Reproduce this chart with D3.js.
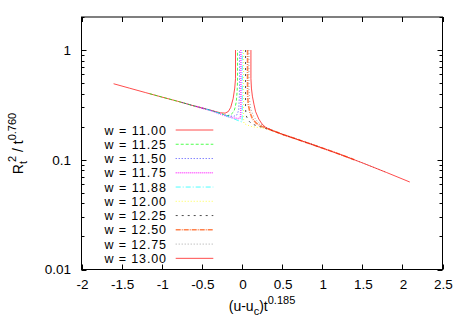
<!DOCTYPE html>
<html><head><meta charset="utf-8">
<script src="https://cdn.jsdelivr.net/npm/d3@7"></script>
<style>body{margin:0;background:#fff}text{font-family:"Liberation Sans",Arial,sans-serif}</style>
</head><body><svg id="c" width="467" height="327"></svg>
<script>
// ---- data ----
const legendLabels = ["w = 11.00","w = 11.25","w = 11.50","w = 11.75","w = 11.88","w = 12.00","w = 12.25","w = 12.50","w = 12.75","w = 13.00"];
const xTicks = [-2,-1.5,-1,-0.5,0,0.5,1,1.5,2,2.5];
const xTickLabels = ["-2","-1.5","-1","-0.5","0","0.5","1","1.5","2","2.5"];
const yTicks = [0.01,0.1,1];
const yTickLabels = ["0.01","0.1","1"];

const w1100 = [[-1.6,0.493],[-1.4,0.449],[-1.2,0.409],[-1.0,0.373],[-0.8,0.341],[-0.6,0.310],[-0.4,0.284],[-0.27,0.268],[-0.21,0.266],[-0.17,0.275],[-0.14,0.30],[-0.11,0.36],[-0.09,0.45],[-0.08,0.55],[-0.08,1]];
const w1125 = [[-1.15,0.40],[-1.0,0.373],[-0.8,0.341],[-0.6,0.310],[-0.4,0.284],[-0.25,0.262],[-0.19,0.252],[-0.143,0.256],[-0.10,0.275],[-0.085,0.30],[-0.07,0.34],[-0.06,0.42],[-0.055,0.52],[-0.055,1]];
const w1150 = [[-0.75,0.333],[-0.6,0.310],[-0.4,0.284],[-0.25,0.260],[-0.15,0.250],[-0.10,0.249],[-0.06,0.258],[-0.04,0.285],[-0.032,0.38],[-0.030,0.50],[-0.030,1]];
const w1175 = [[-0.58,0.307],[-0.4,0.283],[-0.25,0.258],[-0.15,0.245],[-0.10,0.240],[-0.04,0.237],[-0.018,0.240],[-0.013,0.30],[-0.013,1]];
const w1188 = [[-0.45,0.290],[-0.3,0.268],[-0.15,0.244],[-0.05,0.228],[0.0,0.221],[0.004,0.25],[0.004,1]];
const w1200 = [[0.020,1],[0.020,0.24],[0.025,0.214],[0.06,0.208],[0.128,0.200],[0.2,0.197],[0.3,0.192],[0.5,0.171],[0.7,0.152]];
const w1225 = [[0.045,1],[0.045,0.30],[0.05,0.255],[0.08,0.228],[0.12,0.213],[0.17,0.206],[0.25,0.198],[0.5,0.171],[0.8,0.144],[1.0,0.128]];
const w1250 = [[0.070,1],[0.070,0.40],[0.078,0.32],[0.10,0.27],[0.13,0.237],[0.18,0.215],[0.25,0.201],[0.5,0.171],[0.8,0.144],[1.0,0.128],[1.227,0.1117],[1.4,0.100]];
const w1275 = [[0.087,1],[0.087,0.45],[0.095,0.35],[0.11,0.29],[0.15,0.245],[0.2,0.220],[0.27,0.202],[0.5,0.171],[0.8,0.144],[1.0,0.128],[1.227,0.1117],[1.5,0.0938],[1.8,0.0767]];
const w1300 = [[0.112,1],[0.112,0.55],[0.118,0.45],[0.13,0.38],[0.15,0.32],[0.17,0.275],[0.21,0.235],[0.25,0.212],[0.3,0.196],[0.4,0.182],[0.5,0.171],[0.8,0.144],[1.0,0.128],[1.227,0.1117],[1.5,0.0938],[1.8,0.0767],[2.092,0.0627]];

const seriesData = [w1100,w1125,w1150,w1175,w1188,w1200,w1225,w1250,w1275,w1300];
const colors = ["#ff0000","#00ff00","#0000ff","#ff00ff","#00ffff","#ffff00","#000000","#ff4d00","#808080","#ff0000"];
const dashes = [null,"3,2","1,2","1,1","5,2,1,2","1,2","2,4","5,1,1,1","1,2",null];
const widths = [1,1,1,1.6,1,1,1,1.6,1,1];

// ---- layout ----
const svg = d3.select("#c");
const L = 81.5, R = 442.5, T = 17, B = 269.5;
const x = d3.scaleLinear().domain([-2,2.5]).range([L,R]);
const y = d3.scaleLog().domain([0.01,2]).range([B,T]);

const minor = [];
[0.01,0.1,1].forEach(d => { for (let k=2;k<=9;k++){ const v=d*k; if (v<=2) minor.push(v);} });

const g = svg.append("g");
yTicks.forEach(v=>{
  const py = Math.round(y(v))+0.5;
  g.append("line").attr("x1",L).attr("x2",L+5).attr("y1",py).attr("y2",py).attr("stroke","#000");
  g.append("line").attr("x1",R-5).attr("x2",R).attr("y1",py).attr("y2",py).attr("stroke","#000");
});
minor.forEach(v=>{
  const py = Math.round(y(v))+0.5;
  g.append("line").attr("x1",L).attr("x2",L+3).attr("y1",py).attr("y2",py).attr("stroke","#000");
  g.append("line").attr("x1",R-3).attr("x2",R).attr("y1",py).attr("y2",py).attr("stroke","#000");
});
xTicks.forEach(v=>{
  const px = Math.round(x(v))+0.5;
  g.append("line").attr("x1",px).attr("x2",px).attr("y1",B).attr("y2",B-5).attr("stroke","#000");
  g.append("line").attr("x1",px).attr("x2",px).attr("y1",T).attr("y2",T+5).attr("stroke","#000");
});
xTicks.forEach((v,i)=>{
  g.append("text").attr("x",x(v)+1).attr("y",289).attr("text-anchor","middle").attr("font-size","13.5px").text(xTickLabels[i]);
});
yTicks.forEach((v,i)=>{
  g.append("text").attr("x",71).attr("y",y(v)+4.8).attr("text-anchor","end").attr("font-size","13.5px").text(yTickLabels[i]);
});

svg.append("rect").attr("x",L).attr("y",T).attr("width",R-L).attr("height",B-T).attr("fill","none").attr("stroke","#000").attr("stroke-width",1);

const line = d3.line().x(d=>x(d[0])).y(d=>y(d[1]));
seriesData.forEach((s,i)=>{
  svg.append("path").attr("d",line(s)).attr("fill","none").attr("stroke",colors[i])
    .attr("stroke-width",widths[i]).attr("stroke-opacity",0.7)
    .attr("stroke-dasharray",dashes[i]);
});

legendLabels.forEach((lab,i)=>{
  const ly = 130 + i*14.26;
  svg.append("text").attr("x",166).attr("y",ly+4.5).attr("text-anchor","end").attr("font-size","12.5px")
    .attr("textLength",61.5).attr("lengthAdjust","spacing").text(lab);
  svg.append("line").attr("x1",175.7).attr("x2",213.3).attr("y1",ly).attr("y2",ly)
    .attr("stroke",colors[i]).attr("stroke-width",widths[i]).attr("stroke-opacity",0.7).attr("stroke-dasharray",dashes[i]);
});

const xl = svg.append("text").attr("x",262).attr("y",311).attr("text-anchor","middle").attr("font-size","14px");
xl.append("tspan").text("(u-u");
xl.append("tspan").attr("font-size","11px").attr("dy",4).text("c");
xl.append("tspan").attr("dy",-4).text(")t");
xl.append("tspan").attr("font-size","11px").attr("dy",-7).text("0.185");

const yl = svg.append("text").attr("transform","translate(23,143.5) rotate(-90)").attr("text-anchor","middle").attr("font-size","14px");
yl.append("tspan").text("R");
yl.append("tspan").attr("font-size","11px").attr("dy",4).text("t");
yl.append("tspan").attr("font-size","11px").attr("dy",-11).attr("dx",-1).text("2");
yl.append("tspan").attr("dy",7).text(" / t");
yl.append("tspan").attr("font-size","11px").attr("dy",-7).text("0.760");
</script></body></html>
